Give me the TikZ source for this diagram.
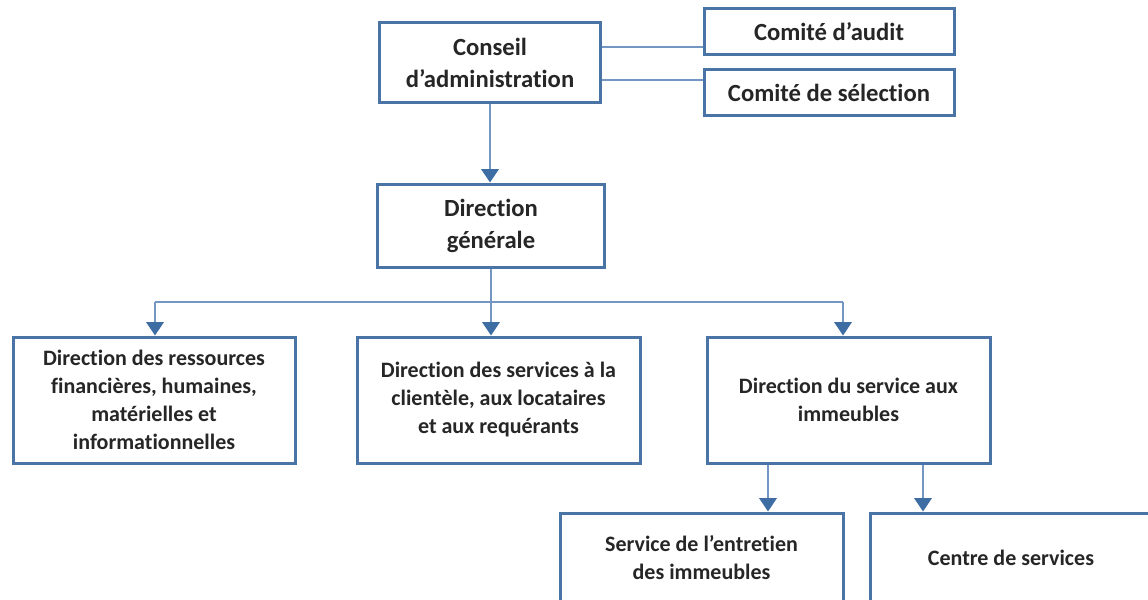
\documentclass[tikz,border=0pt]{standalone}
\usepackage{fontspec}
\setmainfont{Carlito}[BoldFont=Carlito Bold,Ligatures=NoCommon]
\usetikzlibrary{arrows.meta,positioning}

\definecolor{boxblue}{HTML}{4A74A6}
\definecolor{lineblue}{HTML}{7496C2}
\definecolor{tipblue}{HTML}{3E6DA3}
\definecolor{txt}{HTML}{262626}

\begin{document}
\begin{tikzpicture}[x=0.75pt,y=-0.75pt,
	unit/.style={draw=boxblue,line width=2.25pt,fill=white,text=txt,align=center,inner sep=0pt},
	toptext/.style={font=\bfseries\fontsize{18.5}{24}\selectfont},
	lowtext/.style={font=\bfseries\fontsize{16.5}{21}\selectfont},
	link/.style={draw=lineblue,line width=1.5pt},
	arr/.style={link,-{Triangle[width=13pt,length=10pt,color=tipblue]}}]
			\useasboundingbox (0,0) rectangle (1148,599);
			\clip (0,0) rectangle (1148,599);
			\fill[white] (0,0) rectangle (1148,599);
			
			% top level
			\node[unit,toptext,minimum width=165.75pt,minimum height=60pt] (conseil) at (490,63) {Conseil\\d’administration};
			\node[unit,toptext,minimum width=187.5pt,minimum height=34.5pt] (audit) at (829,32) {Comité d’audit};
			\node[unit,toptext,minimum width=187.5pt,minimum height=34.5pt] (selection) at (829,93) {Comité de sélection};
			\node[unit,toptext,minimum width=170.25pt,minimum height=62.25pt] (dg) at (491,225.5) {Direction\\générale};
			
			% directions
			\node[unit,lowtext,minimum width=211.5pt,minimum height=94.5pt] (finances) at (154,400) {Direction des ressources\\financières, humaines,\\matérielles et\\informationnelles};
			\node[unit,lowtext,minimum width=212.25pt,minimum height=94.5pt] (clientele) at (498.5,400) {Direction des services à la\\clientèle, aux locataires\\et aux requérants};
			\node[unit,lowtext,minimum width=212.25pt,minimum height=94.5pt] (immeubles) at (848.5,400) {Direction du service aux\\immeubles};
			
			% services
			\node[unit,lowtext,minimum width=212.25pt,minimum height=67.5pt] (entretien) at (701.5,558) {Service de l’entretien\\des immeubles};
			\node[unit,lowtext,minimum width=211.5pt,minimum height=67.5pt] (centre) at (1011,558) {Centre de services};
			
			\draw[link] ([yshift=12pt]conseil.east) -- ([yshift=12pt]conseil.east -| audit.west);
			\draw[link] ([yshift=-12.75pt]conseil.east) -- ([yshift=-12.75pt]conseil.east -| selection.west);
			\draw[arr] (conseil.south) -- (conseil.south |- dg.north);
			
			\coordinate (busL) at (155,302);
			\coordinate (busR) at (843,302);
			\draw[link] (dg.south) -- (dg.south |- busL);
			\draw[link] (busL) -- (busR);
			\foreach \c/\t in {busL/finances,dg.south/clientele,busR/immeubles}
				{\draw[arr] (\c |- busL) -- (\c |- \t.north);}
			
			\coordinate (toEntretien) at (768,0);
			\coordinate (toCentre) at (923,0);
			\draw[arr] (immeubles.south -| toEntretien) -- (entretien.north -| toEntretien);
			\draw[arr] (immeubles.south -| toCentre) -- (centre.north -| toCentre);
		\end{tikzpicture}
\end{document}
